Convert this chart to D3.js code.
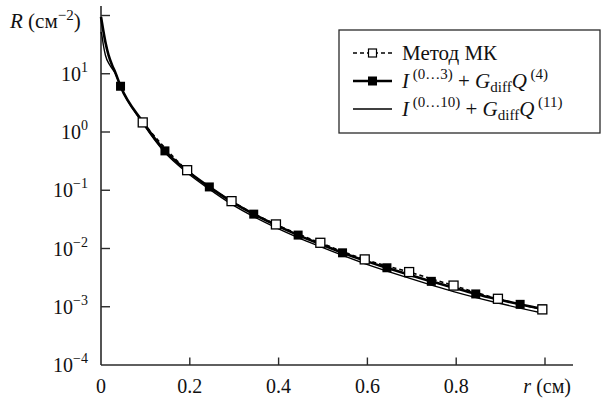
<!DOCTYPE html>
<html>
<head>
<meta charset="utf-8">
<script src="https://cdn.jsdelivr.net/npm/d3@7"></script>
<style>
  html, body { margin: 0; padding: 0; background: #fff; }
  svg { display: block; }
  svg text { font-family: "Liberation Serif", "Times New Roman", Times, "DejaVu Serif", serif; }
</style>
</head>
<body>
<svg id="chart" width="604" height="401"></svg>
<script>
// R(r) on a log scale: Monte Carlo vs. two truncated series.
const X_TICKS = [0, 0.2, 0.4, 0.6, 0.8, 1.0];
const X_LABELS = ["0", "0.2", "0.4", "0.6", "0.8"];
const Y_TICKS = [1e-4, 1e-3, 1e-2, 1e-1, 1e0, 1e1, 1e2];
const Y_EXP = ["−4", "−3", "−2", "−1", "0", "1"];

// Monte Carlo (open squares, dashed)
const MK_R = [0.094, 0.194, 0.294, 0.394, 0.494, 0.594, 0.694, 0.794, 0.894, 0.994];
const MK_V = [1.46, 0.221, 0.0650, 0.0259, 0.01253, 0.0065, 0.00394, 0.00231, 0.00137, 0.00090];

// I(0..3) + Gdiff Q(4)  (thick line, filled squares)
const S3_R = [0, 0.005, 0.01, 0.017, 0.025, 0.032, 0.044, 0.094, 0.144, 0.194, 0.244, 0.294,
              0.344, 0.394, 0.444, 0.494, 0.544, 0.594, 0.644, 0.694, 0.744, 0.794, 0.844,
              0.894, 0.944, 0.994];
const S3_V = [94.2, 55.7, 34.7, 20.8, 14.0, 10.6, 6.1, 1.50, 0.474, 0.217, 0.114, 0.0637,
              0.0389, 0.0252, 0.0170, 0.0119, 0.00843, 0.00619, 0.00467, 0.00354, 0.00273,
              0.00212, 0.00166, 0.00134, 0.00110, 0.00092];
const S3_MARK_R = [0.044, 0.144, 0.244, 0.344, 0.444, 0.544, 0.644, 0.744, 0.844, 0.944, 0.994];

// I(0..10) + Gdiff Q(11)  (thin line)
const S10_R = [0, 0.002, 0.005, 0.01, 0.02, 0.032, 0.044, 0.094, 0.144, 0.194, 0.244, 0.294,
               0.344, 0.394, 0.444, 0.494, 0.594, 0.694, 0.794, 0.894, 0.994];
const S10_V = [52, 45.7, 32.1, 20.8, 14.0, 10.2, 5.98, 1.42, 0.442, 0.200, 0.1045, 0.0578,
               0.0352, 0.0228, 0.0154, 0.0108, 0.00551, 0.00310, 0.00182, 0.00116, 0.00078];

const SERIF = '"Liberation Serif", "Times New Roman", Times, "DejaVu Serif", serif';
const svg = d3.select("#chart").attr("font-family", SERIF);
const x = d3.scaleLinear([0, 1], [101, 545]);
const y = d3.scaleLog([1e-4, 1e2], [365, 15.5]);
const AX = "#2a2a2a", FS = 20, SUP = 14, LFS = 21, LSUP = 15;

// axes lines
svg.append("line").attr("x1", x(0)).attr("x2", 573).attr("y1", y(1e-4)).attr("y2", y(1e-4))
  .attr("stroke", AX).attr("stroke-width", 1.6);
svg.append("line").attr("x1", x(0)).attr("x2", x(0)).attr("y1", 6).attr("y2", y(1e-4))
  .attr("stroke", AX).attr("stroke-width", 1.6);

// ticks (inward)
svg.append("g").selectAll("line").data(X_TICKS.slice(1)).join("line")
  .attr("x1", d => x(d)).attr("x2", d => x(d))
  .attr("y1", y(1e-4)).attr("y2", y(1e-4) - 7.5)
  .attr("stroke", AX).attr("stroke-width", 1.4);
svg.append("g").selectAll("line").data(Y_TICKS.slice(1)).join("line")
  .attr("x1", x(0)).attr("x2", x(0) + 9)
  .attr("y1", d => y(d)).attr("y2", d => y(d))
  .attr("stroke", AX).attr("stroke-width", 1.4);

function txt(sel) { return sel.attr("font-family", SERIF).attr("fill", "#111"); }

// tick labels
txt(svg.append("g").selectAll("text").data(X_LABELS).join("text"))
  .attr("x", (d, i) => x(X_TICKS[i])).attr("y", 393)
  .attr("text-anchor", "middle").attr("font-size", FS).text(d => d);
const xt = txt(svg.append("text")).attr("x", 571).attr("y", 393)
  .attr("text-anchor", "end").attr("font-size", FS);
xt.append("tspan").attr("font-style", "italic").text("r");
xt.append("tspan").text(" (см)");

const yl = txt(svg.append("g").selectAll("text").data(Y_EXP).join("text"))
  .attr("x", 88).attr("y", (d, i) => y(Y_TICKS[i]) + 7)
  .attr("text-anchor", "end").attr("font-size", FS);
yl.append("tspan").text("10");
yl.append("tspan").attr("dy", -9).attr("font-size", SUP).text(d => d);

const ytl = txt(svg.append("text")).attr("x", 10).attr("y", 28).attr("font-size", 21);
ytl.append("tspan").attr("font-style", "italic").text("R");
ytl.append("tspan").text(" (см");
ytl.append("tspan").attr("dy", -8).attr("font-size", 15).text("−2");
ytl.append("tspan").attr("dy", 8).text(")");

// series
const line = d3.line().x(d => x(d[0])).y(d => y(d[1])).curve(d3.curveMonotoneX);
const s3 = S3_R.map((r, i) => [r, S3_V[i]]);
const s10 = S10_R.map((r, i) => [r, S10_V[i]]);
const mk = MK_R.map((r, i) => [r, MK_V[i]]);
const plot = svg.append("g");
plot.append("path").attr("d", line(s10)).attr("fill", "none")
  .attr("stroke", "#000").attr("stroke-width", 1.4);
plot.append("path").attr("d", line(s3)).attr("fill", "none")
  .attr("stroke", "#000").attr("stroke-width", 2.6);
plot.append("path").attr("d", line(mk)).attr("fill", "none")
  .attr("stroke", "#000").attr("stroke-width", 1.6).attr("stroke-dasharray", "4,3");

const s3At = new Map(s3);
plot.append("g").selectAll("rect").data(S3_MARK_R).join("rect")
  .attr("x", r => x(r) - 4.5).attr("y", r => y(s3At.get(r)) - 4.5)
  .attr("width", 9).attr("height", 9).attr("fill", "#000");
plot.append("g").selectAll("rect").data(mk).join("rect")
  .attr("x", d => x(d[0]) - 4.5).attr("y", d => y(d[1]) - 4.5)
  .attr("width", 9).attr("height", 9)
  .attr("fill", "#fff").attr("stroke", "#000").attr("stroke-width", 1.3);

// legend
const lg = svg.append("g");
lg.append("rect").attr("x", 339).attr("y", 30).attr("width", 261).attr("height", 103)
  .attr("fill", "#fff").attr("stroke", AX).attr("stroke-width", 1.3);
const rows = [53, 81, 109];
lg.append("line").attr("x1", 353).attr("x2", 392).attr("y1", rows[0]).attr("y2", rows[0])
  .attr("stroke", "#000").attr("stroke-width", 1.6).attr("stroke-dasharray", "4,3");
lg.append("rect").attr("x", 368.5).attr("y", rows[0] - 4).attr("width", 8).attr("height", 8)
  .attr("fill", "#fff").attr("stroke", "#000").attr("stroke-width", 1.2);
lg.append("line").attr("x1", 353).attr("x2", 392).attr("y1", rows[1]).attr("y2", rows[1])
  .attr("stroke", "#000").attr("stroke-width", 2.6);
lg.append("rect").attr("x", 368).attr("y", rows[1] - 4.5).attr("width", 9).attr("height", 9)
  .attr("fill", "#000");
lg.append("line").attr("x1", 353).attr("x2", 392).attr("y1", rows[2]).attr("y2", rows[2])
  .attr("stroke", "#000").attr("stroke-width", 1.6);

txt(lg.append("text")).attr("x", 402).attr("y", rows[0] + 7).attr("font-size", LFS).text("Метод МК");
function formula(yy, a, b) {
  const t = txt(lg.append("text")).attr("x", 402).attr("y", yy + 7).attr("font-size", LFS);
  t.append("tspan").attr("font-style", "italic").text("I");
  t.append("tspan").attr("dy", -9).attr("font-size", LSUP).text(" (0…" + a + ")");
  t.append("tspan").attr("dy", 9).text(" + ");
  t.append("tspan").attr("font-style", "italic").text("G");
  t.append("tspan").attr("dy", 4).attr("font-size", LSUP).text("diff");
  t.append("tspan").attr("dy", -4).attr("font-style", "italic").text("Q");
  t.append("tspan").attr("dy", -9).attr("font-size", LSUP).text(" (" + b + ")");
}
formula(rows[1], 3, 4);
formula(rows[2], 10, 11);
</script>
</body>
</html>
